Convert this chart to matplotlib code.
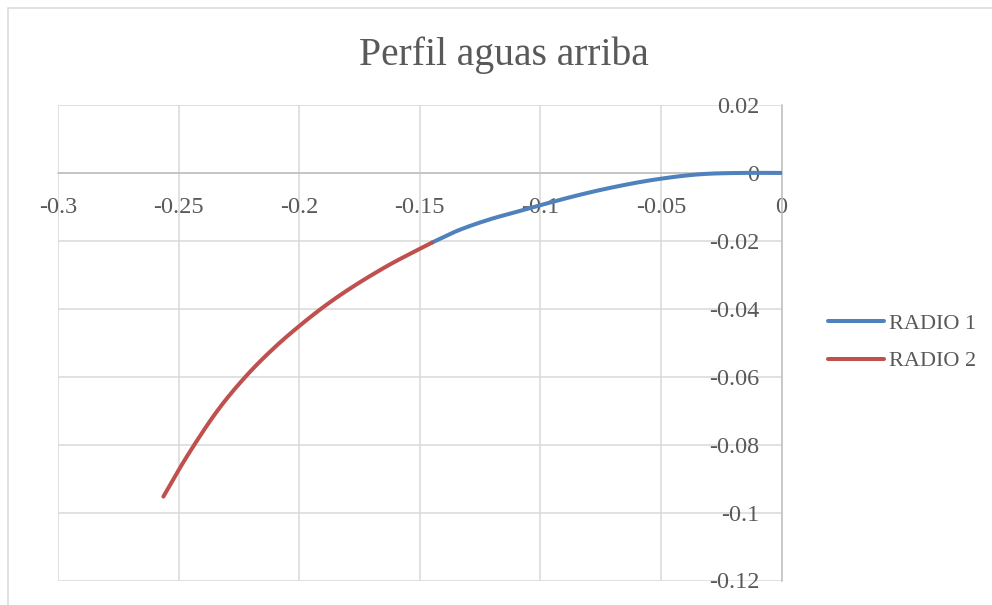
import numpy as np
import matplotlib
matplotlib.use("Agg")
import matplotlib.pyplot as plt
from matplotlib.patches import Rectangle

# values
radio1_x = [-0.1449, -0.136, -0.122, -0.108, -0.100, -0.075, -0.050, -0.034, -0.017, 0.0]
radio1_y = [-0.0205, -0.0175, -0.0139, -0.0111, -0.0095, -0.0050, -0.0017, -0.0004, 0.0, 0.0]

radio2_x = [-0.2563, -0.25, -0.2439, -0.2342, -0.222, -0.2093, -0.2, -0.1913, -0.165, -0.1449]
radio2_y = [-0.0953, -0.0875, -0.0805, -0.0703, -0.0598, -0.0508, -0.0451, -0.0402, -0.0280, -0.0205]

x_ticks = [-0.3, -0.25, -0.2, -0.15, -0.1, -0.05, 0]
x_labels = ["-0.3", "-0.25", "-0.2", "-0.15", "-0.1", "-0.05", "0"]
y_ticks = [0.02, 0, -0.02, -0.04, -0.06, -0.08, -0.1, -0.12]
y_labels = ["0.02", "0", "-0.02", "-0.04", "-0.06", "-0.08", "-0.1", "-0.12"]

BLUE = "#4f81bd"
RED = "#c0504d"
TXT = "#595959"
GRID = "#d9d9d9"


def smooth(xs, ys, n=25):
    # cubic hermite through the points (only for drawing a smooth line)
    x = np.asarray(xs, float)
    y = np.asarray(ys, float)
    h = np.diff(x)
    d = np.diff(y) / h
    m = np.empty_like(y)
    m[0], m[-1] = d[0], d[-1]
    m[1:-1] = (d[:-1] * h[1:] + d[1:] * h[:-1]) / (h[:-1] + h[1:])
    px, py = [], []
    for i in range(len(h)):
        t = np.linspace(0, 1, n, endpoint=False)
        h00 = 2 * t**3 - 3 * t**2 + 1
        h10 = t**3 - 2 * t**2 + t
        h01 = -2 * t**3 + 3 * t**2
        h11 = t**3 - t**2
        px.append(x[i] + t * h[i])
        py.append(h00 * y[i] + h10 * h[i] * m[i] + h01 * y[i + 1] + h11 * h[i] * m[i + 1])
    px.append([x[-1]])
    py.append([y[-1]])
    return np.concatenate(px), np.concatenate(py)


plt.rcParams['font.family'] = ['Liberation Serif', 'DejaVu Serif']

fig = plt.figure(figsize=(9.92, 6.05), dpi=100)
fig.patch.set_facecolor("white")

# chart border (only left/top visible in the crop)
fig.patches.append(Rectangle((7.5 / 992, -0.1), 1.2, 1 - 8 / 605 + 0.1,
                             transform=fig.transFigure, fill=False,
                             edgecolor=GRID, linewidth=1.1))

ax = fig.add_axes([58 / 992, 1 - 580.5 / 605, (781.5 - 58) / 992, (580.5 - 105) / 605])

bx, by = smooth(radio1_x, radio1_y)
rx, ry = smooth(radio2_x, radio2_y)
ax.plot(bx, by, color=BLUE, lw=2.9, solid_capstyle='round', label="RADIO 1", zorder=3)
ax.plot(rx, ry, color=RED, lw=2.9, solid_capstyle='round', label="RADIO 2", zorder=3)

ax.set_xlim(-0.3, 0)
ax.set_ylim(-0.12, 0.02)
ax.set_xticks(x_ticks)
ax.set_xticklabels(x_labels)
ax.set_yticks(y_ticks)
ax.set_yticklabels(y_labels)

ax.grid(True, color=GRID, lw=1.1)
ax.set_axisbelow(True)

for s in ['top', 'right']:
    ax.spines[s].set_visible(False)
for s in ['left', 'bottom']:
    ax.spines[s].set_position(('data', 0))
    ax.spines[s].set_color("#bfbfbf")
    ax.spines[s].set_linewidth(1.1)
    ax.spines[s].set_zorder(2)

ax.tick_params(axis='both', length=0, labelsize=17.5, labelcolor=TXT)
ax.tick_params(axis='y', pad=16)
ax.tick_params(axis='x', pad=17)

fig.text(504 / 992, 1 - 64.5 / 605, "Perfil aguas arriba", ha='center', va='baseline',
         fontsize=28.5, color=TXT)

leg = ax.legend(loc='center left', bbox_to_anchor=(828 / 992, 1 - 342.5 / 605),
                bbox_transform=fig.transFigure, frameon=False, fontsize=16,
                handlelength=2.5, handletextpad=0.25, labelspacing=0.75,
                borderpad=0, borderaxespad=0)
for t in leg.get_texts():
    t.set_color(TXT)

fig.savefig("out.png", dpi=100, facecolor="white")
